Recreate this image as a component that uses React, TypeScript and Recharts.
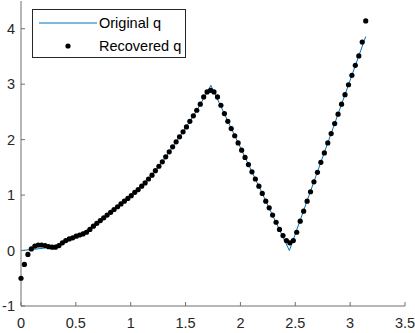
import { ComposedChart, Line, Scatter, XAxis, YAxis } from "recharts";

// original q (x in rad)
const origX = [0, 0.1, 0.2, 0.3, 0.4, 0.5, 0.6, 0.7, 0.8, 0.9, 1.0, 1.1, 1.2, 1.3, 1.4, 1.5, 1.6, 1.7, 1.73, 2.446, 3.142];
const origQ = [0, 0.02, 0.04, 0.08, 0.17, 0.26, 0.37, 0.51, 0.66, 0.82, 0.98, 1.16, 1.37, 1.63, 1.92, 2.21, 2.52, 2.86, 2.98, 0.0, 3.86];

// recovered q, one dot per sample
const recX = [
  0, 0.031, 0.063, 0.094, 0.126, 0.157, 0.188, 0.22, 0.251, 0.283,
  0.314, 0.346, 0.377, 0.408, 0.44, 0.471, 0.503, 0.534, 0.565, 0.597,
  0.628, 0.66, 0.691, 0.723, 0.754, 0.785, 0.817, 0.848, 0.88, 0.911,
  0.942, 0.974, 1.005, 1.037, 1.068, 1.1, 1.131, 1.162, 1.194, 1.225,
  1.257, 1.288, 1.319, 1.351, 1.382, 1.414, 1.445, 1.477, 1.508, 1.539,
  1.571, 1.602, 1.634, 1.665, 1.696, 1.728, 1.759, 1.791, 1.822, 1.854,
  1.885, 1.916, 1.948, 1.979, 2.011, 2.042, 2.073, 2.105, 2.136, 2.168,
  2.199, 2.231, 2.262, 2.293, 2.325, 2.356, 2.388, 2.419, 2.45, 2.482,
  2.513, 2.545, 2.576, 2.608, 2.639, 2.67, 2.702, 2.733, 2.765, 2.796,
  2.827, 2.859, 2.89, 2.922, 2.953, 2.985, 3.016, 3.047, 3.079, 3.11,
  3.142,
];
const recQ = [
  -0.5, -0.25, -0.07, 0.03, 0.08, 0.1, 0.1, 0.09, 0.07, 0.06,
  0.06, 0.09, 0.14, 0.18, 0.21, 0.23, 0.26, 0.28, 0.3, 0.33,
  0.38, 0.44, 0.49, 0.54, 0.59, 0.64, 0.69, 0.74, 0.79, 0.84,
  0.89, 0.94, 0.99, 1.05, 1.1, 1.16, 1.22, 1.29, 1.36, 1.44,
  1.52, 1.6, 1.69, 1.78, 1.87, 1.96, 2.05, 2.14, 2.23, 2.33,
  2.43, 2.53, 2.64, 2.77, 2.86, 2.89, 2.86, 2.77, 2.62, 2.47,
  2.33, 2.2, 2.07, 1.94, 1.81, 1.68, 1.55, 1.42, 1.29, 1.16,
  1.03, 0.89, 0.77, 0.64, 0.51, 0.38, 0.27, 0.18, 0.14, 0.18,
  0.33, 0.53, 0.71, 0.89, 1.06, 1.24, 1.41, 1.59, 1.76, 1.94,
  2.11, 2.29, 2.46, 2.64, 2.81, 2.99, 3.16, 3.34, 3.51, 3.76,
  4.14,
];

const xTicks = [0, 0.5, 1, 1.5, 2, 2.5, 3, 3.5];
const yTicks = [-1, 0, 1, 2, 3, 4];

const origData = origX.map((x, i) => ({ x, q: origQ[i] }));
const recData = recX.map((x, i) => ({ x, q: recQ[i] }));

const AXIS = "#6e6e6e";
const TEXT = "#262626";
const FONT = "'Liberation Sans', Arial, Helvetica, sans-serif";
const FS = 14.5;
const TICK_LEN = 4;

const BottomTick = ({ x, y, payload }: any) => (
  <g>
    <line x1={x} y1={y} x2={x} y2={y - TICK_LEN} stroke={AXIS} />
    <text x={x} y={y + 22} textAnchor="middle" fill={TEXT} fontSize={FS} fontFamily={FONT}>
      {payload.value}
    </text>
  </g>
);

const TopTick = ({ x, y }: any) => <line x1={x} y1={y} x2={x} y2={y + TICK_LEN} stroke={AXIS} />;

const LeftTick = ({ x, y, payload }: any) => (
  <g>
    <line x1={x} y1={y} x2={x + TICK_LEN} y2={y} stroke={AXIS} />
    <text x={x - 6} y={y + 5} textAnchor="end" fill={TEXT} fontSize={FS} fontFamily={FONT}>
      {payload.value}
    </text>
  </g>
);

const RightTick = ({ x, y }: any) => <line x1={x} y1={y} x2={x - TICK_LEN} y2={y} stroke={AXIS} />;

const Dot = ({ cx, cy }: any) => <circle cx={cx} cy={cy} r={2.6} fill="#000" />;

function LegendBox() {
  return (
    <div
      style={{
        position: "absolute",
        left: 32,
        top: 9,
        width: 152,
        height: 47,
        border: `1px solid ${TEXT}`,
        background: "#fff",
      }}
    >
      <svg width={152} height={47} style={{ position: "absolute", left: 0, top: 0 }}>
        <line x1={6} y1={13} x2={64} y2={13} stroke="#0072BD" strokeWidth={1} />
        <circle cx={35} cy={36} r={2.6} fill="#000" />
        <text x={66} y={18} fontSize={FS} fontFamily={FONT} fill="#000">
          Original q
        </text>
        <text x={66} y={41} fontSize={FS} fontFamily={FONT} fill="#000">
          Recovered q
        </text>
      </svg>
    </div>
  );
}

export default function App() {
  return (
    <div style={{ position: "absolute", left: 0, top: 0, width: 415, height: 333, background: "#fff" }}>
      <ComposedChart width={415} height={333} margin={{ top: 1, right: 10, bottom: 0, left: 0 }}>
        <XAxis
          xAxisId="b"
          type="number"
          dataKey="x"
          domain={[0, 3.5]}
          ticks={xTicks}
          height={27}
          tickSize={0}
          tickMargin={0}
          tick={<BottomTick />}
          axisLine={{ stroke: AXIS }}
          interval={0}
        />
        <XAxis
          xAxisId="t"
          orientation="top"
          type="number"
          dataKey="x"
          domain={[0, 3.5]}
          ticks={xTicks}
          height={0}
          tickSize={0}
          tickMargin={0}
          tick={<TopTick />}
          axisLine={{ stroke: AXIS }}
          interval={0}
        />
        <YAxis
          yAxisId="l"
          type="number"
          domain={[-1, 4.5]}
          ticks={yTicks}
          width={21}
          tickSize={0}
          tickMargin={0}
          tick={<LeftTick />}
          axisLine={{ stroke: AXIS }}
          interval={0}
        />
        <YAxis
          yAxisId="r"
          orientation="right"
          type="number"
          domain={[-1, 4.5]}
          ticks={yTicks}
          width={0}
          tickSize={0}
          tickMargin={0}
          tick={<RightTick />}
          axisLine={{ stroke: AXIS }}
          interval={0}
        />
        <Line
          xAxisId="b"
          yAxisId="l"
          data={origData}
          dataKey="q"
          type="linear"
          stroke="#0072BD"
          strokeWidth={1}
          dot={false}
          isAnimationActive={false}
        />
        <Scatter
          xAxisId="b"
          yAxisId="l"
          data={recData}
          dataKey="q"
          shape={<Dot />}
          isAnimationActive={false}
        />
      </ComposedChart>
      <LegendBox />
    </div>
  );
}
